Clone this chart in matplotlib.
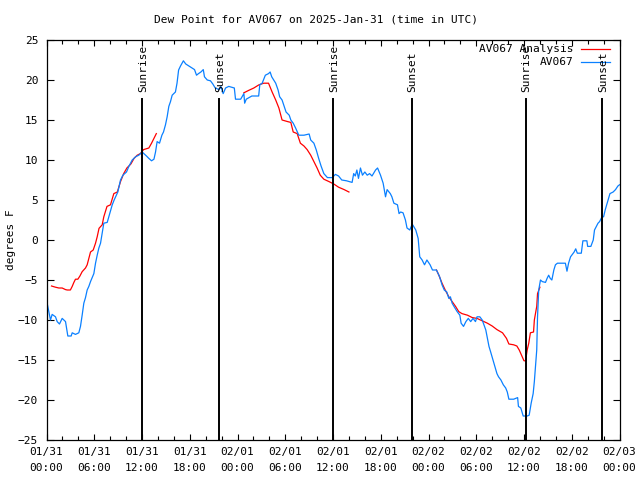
import matplotlib
matplotlib.use("Agg")
import matplotlib.pyplot as plt
import numpy as np

# hours since 2025-01-31 00:00 UTC
blue_h = [0.08, 0.5, 0.71, 1.13, 1.34, 1.63, 1.97, 2.39, 2.68, 3.10, 3.23, 3.64, 4.06, 4.27, 4.48,
          4.69, 4.90, 5.11, 5.32, 5.53, 5.95, 6.16, 6.37, 6.58, 6.79, 6.99, 7.20, 7.63, 7.83, 8.04,
          8.26, 8.5, 8.96, 9.3, 9.6, 10.05, 10.35, 10.77, 11.19, 11.6, 12.02, 12.56, 12.86, 13.2,
          13.5, 13.7, 13.9, 14.2, 14.5, 14.7, 14.95, 15.16, 15.37, 15.58, 15.79, 16.2, 16.4, 16.6,
          16.84, 17.2, 17.5, 17.9, 18.3, 18.6, 18.85, 19.1, 19.4, 19.7, 19.85, 20.2, 20.6, 20.9,
          21.2, 21.7, 21.9, 22.2, 22.5, 22.9, 23.6, 23.75, 24.4, 24.8, 24.9, 25.1, 25.8, 26.66,
          26.8, 27.1, 27.5, 27.9, 28.1, 28.3, 28.8, 29.1, 29.3, 29.6, 29.8, 30.1, 30.5, 30.7, 31.0,
          31.3, 31.7, 32.35, 33.0, 33.2, 33.6, 33.9, 34.2, 34.5, 34.85, 35.3, 35.9, 36.3, 36.7,
          37.1, 37.7, 38.4, 38.6, 38.8, 39.0, 39.2, 39.45, 39.7, 40.0, 40.3, 40.6, 40.9, 41.35,
          41.6, 41.97, 42.3, 42.6, 42.8, 43.2, 43.4, 43.65, 44.1, 44.3, 44.5, 44.8, 45.1, 45.3,
          45.65, 45.95, 46.4, 46.7, 46.9, 47.2, 47.5, 47.8, 48.2, 48.5, 49.0, 49.4, 49.7, 49.98,
          50.3, 50.55, 50.75, 50.97, 51.2, 51.6, 51.94, 52.1, 52.4, 52.7, 53.0, 53.3, 53.6, 53.9,
          54.1, 54.45, 54.75, 55.2, 55.4, 55.6, 55.8, 56.1, 56.4, 56.6, 56.8, 57.1, 57.4, 57.7,
          57.9, 58.1, 58.7, 59.2, 59.3, 59.6, 59.9, 60.4, 60.65, 60.9, 61.15, 61.3, 61.45, 61.6,
          61.7, 61.85, 62.07, 62.3, 62.7, 62.9, 63.1, 63.3, 63.5, 63.75, 63.95, 64.2, 65.2, 65.4,
          65.6, 65.85, 66.3, 66.5, 66.7, 67.2, 67.4, 67.9, 68.0, 68.4, 68.7, 68.86, 69.3, 69.5,
          69.8, 70.0, 70.2, 70.45, 70.6, 70.8, 71.2, 71.5, 71.8, 72.0]
blue_v = [-7.9, -10.0, -9.3, -9.6, -10.2, -10.5, -9.8, -10.2, -12.0, -12.0, -11.6, -11.8, -11.6, -10.8, -9.4,
          -7.9, -7.2, -6.25, -5.8, -5.2, -4.2, -2.9, -1.9, -1.0, -0.4, 0.8, 2.1, 2.2, 2.9, 3.6,
          4.4, 5.0, 6.0, 7.5, 8.1, 8.5, 9.2, 10.0, 10.4, 10.6, 11.0, 10.5, 10.2, 9.9,
          10.1, 11.0, 12.3, 12.1, 13.1, 13.5, 14.4, 15.4, 16.7, 17.3, 18.1, 18.5, 19.6, 21.25,
          21.75, 22.4, 22.0, 21.75, 21.5, 21.3, 20.6, 20.8, 21.0, 21.3, 20.4, 20.0, 19.9, 19.5,
          19.0, 18.8, 19.2, 18.3, 19.0, 19.2, 19.0, 17.6, 17.6, 18.3, 17.1, 17.6, 18.0, 18.0,
          19.4, 19.6, 20.6, 20.8, 21.0, 20.4, 19.6, 18.75, 17.9, 17.5, 16.9, 16.0, 15.6, 15.0, 14.6,
          14.0, 13.1, 13.1, 13.25, 12.5, 12.1, 11.25, 10.2, 9.25, 8.3, 7.8, 7.8, 8.2, 8.0,
          7.5, 7.4, 7.2, 8.3, 8.0, 8.75, 7.7, 9.0, 8.1, 8.5, 8.1, 8.3, 8.0, 8.75,
          9.0, 8.1, 7.1, 5.4, 6.3, 5.8, 5.4, 4.6, 4.4, 3.3, 3.5, 3.4, 2.5, 1.5,
          1.25, 2.0, 1.25, 0.2, -2.1, -2.5, -3.1, -2.5, -3.1, -3.75, -3.75, -4.6, -5.6, -6.25,
          -6.5, -7.3, -7.1, -7.9, -8.3, -8.95, -9.4, -10.4, -10.8, -10.2, -9.8, -10.2, -9.8, -10.2,
          -9.6, -9.6, -10.0, -11.25, -12.3, -13.3, -13.96, -15.0, -16.0, -16.7, -17.1, -17.5, -18.1, -18.5,
          -19.0, -19.9, -19.9, -19.7, -20.8, -21.0, -22.0, -22.0, -21.9, -20.4, -19.2, -17.7, -15.8, -13.75,
          -9.6, -6.25, -5.0, -5.2, -5.3, -4.8, -4.4, -4.8, -5.0, -3.75, -3.1, -2.9, -2.9, -3.9,
          -2.9, -2.1, -1.5, -1.1, -1.65, -1.65, -0.1, -0.1, -0.8, -0.8, 0.0, 1.25, 2.1, 2.3,
          2.9, 2.9, 3.75, 4.6, 5.1, 5.8, 6.0, 6.3, 6.75, 6.9]

# analysis, nan = gap between runs
red_h = [0.63, 1.13, 1.55, 1.97, 2.39, 2.6, 3.0, 3.23, 3.44, 3.64, 3.94, 4.2, 4.48, 4.9, 5.11,
         5.32, 5.53, 5.87, 6.16, 6.37, 6.6, 7.0, 7.2, 7.6, 8.04, 8.46, 8.9, 9.3, 9.7, 10.1,
         10.6, 11.0, 11.4, 11.8, 12.2, 12.86, 13.2, 13.5, 13.8, np.nan,
         24.8, 25.4, 26.05, 26.7, 27.3, 27.9, 28.35, 28.8, 29.2, 29.6, 30.3, 30.7, 31.0, 31.5,
         31.9, 32.35, 32.75, 33.2, 33.6, 34.0, 34.4, 34.85, 35.5, 36.1, 36.7, 37.4, 38.0, np.nan,
         49.0, 49.3, 49.7, 50.1, 50.55, 50.97, 51.4, 51.8, 52.2, 52.9, 53.5, 54.1, 54.75, 55.4,
         56.0, 56.6, 57.3, 57.8, 58.1, 58.7, 59.1, 59.4, 59.6, 60.0, 60.2, 60.4, 60.6, 60.8,
         61.2, 61.3, 61.6, 61.7, 62.0]
red_v = [-5.75, -5.9, -6.0, -6.0, -6.2, -6.25, -6.25, -5.8, -5.3, -4.9, -4.9, -4.5, -3.96, -3.5, -3.1,
         -2.3, -1.5, -1.25, -0.4, 0.4, 1.46, 1.9, 2.9, 4.2, 4.4, 5.8, 6.0, 7.3, 8.3, 9.0,
         9.5, 10.2, 10.6, 10.8, 11.3, 11.5, 12.1, 12.7, 13.3, np.nan,
         18.4, 18.7, 19.0, 19.4, 19.6, 19.6, 18.5, 17.5, 16.5, 15.0, 14.8, 14.7, 13.5, 13.3,
         12.1, 11.75, 11.3, 10.6, 9.8, 9.0, 8.1, 7.6, 7.3, 7.0, 6.6, 6.3, 6.0, np.nan,
         -3.75, -4.4, -5.4, -6.25, -7.1, -7.7, -8.3, -8.95, -9.2, -9.4, -9.7, -9.8, -10.1, -10.4,
         -10.75, -11.2, -11.6, -12.3, -13.0, -13.1, -13.25, -13.75, -14.2, -15.1, -15.1, -13.75, -12.9, -11.6,
         -11.5, -10.0, -8.3, -6.7, -5.9]

sun_h = [12.0, 21.68, 36.0, 45.87, 60.2, 69.85]
sun_names = ["Sunrise", "Sunset", "Sunrise", "Sunset", "Sunrise", "Sunset"]

tick_h = list(range(0, 73, 6))
tick_labels = ["01/31\n00:00", "01/31\n06:00", "01/31\n12:00", "01/31\n18:00",
               "02/01\n00:00", "02/01\n06:00", "02/01\n12:00", "02/01\n18:00",
               "02/02\n00:00", "02/02\n06:00", "02/02\n12:00", "02/02\n18:00",
               "02/03\n00:00"]

RED = "#ff0000"
BLUE = "#0a80ff"
FONT = "DejaVu Sans Mono"

plt.rcParams["font.family"] = FONT
plt.rcParams["font.size"] = 8

fig = plt.figure(figsize=(6.4, 4.8), dpi=100)
ax = fig.add_axes([46.5 / 640, 40 / 480, 573 / 640, 400 / 480])

ax.plot(red_h, red_v, color=RED, lw=0.9)
ax.plot(blue_h, blue_v, color=BLUE, lw=0.9)

# sunrise / sunset markers
for h, name in zip(sun_h, sun_names):
    ax.plot([h, h], [-25, 17.6], color="black", lw=1.4)
    ax.text(h + 0.1, 18.5, name, rotation=90, ha="center", va="bottom", fontsize=8)

ax.set_xlim(0, 72)
ax.set_ylim(-25, 25)
ax.set_xticks(tick_h)
ax.set_xticklabels(tick_labels, linespacing=1.7)
ax.set_xticks(range(0, 73, 2), minor=True)
ax.set_yticks(range(-25, 26, 5))
ax.tick_params(which="both", direction="in", top=True, right=True, width=0.8)
ax.tick_params(which="major", length=4, pad=5)
ax.tick_params(which="minor", length=3)
ax.tick_params(axis="y", length=5, pad=6)
for s in ax.spines.values():
    s.set_linewidth(0.9)

# y label placed by hand, like gnuplot does
fig.text(11 / 640, 0.5, "degrees F", rotation=90, ha="center", va="center", fontsize=8)
fig.text(0.493, 1 - 19 / 480, "Dew Point for AV067 on 2025-Jan-31 (time in UTC)",
         ha="center", va="center", fontsize=8)

# legend, gnuplot style (text right aligned, line sample on the right)
for i, (lab, col) in enumerate([("AV067 Analysis", RED), ("AV067", BLUE)]):
    y = 1 - (9.5 + 13 * i) / 400
    ax.text((573.5 - 46.5) / 573, y, lab, transform=ax.transAxes, ha="right", va="center")
    ax.plot([(581 - 46.5) / 573, (610 - 46.5) / 573], [y, y], color=col, lw=0.9,
            transform=ax.transAxes, clip_on=False)

fig.savefig("out.png", dpi=100)
